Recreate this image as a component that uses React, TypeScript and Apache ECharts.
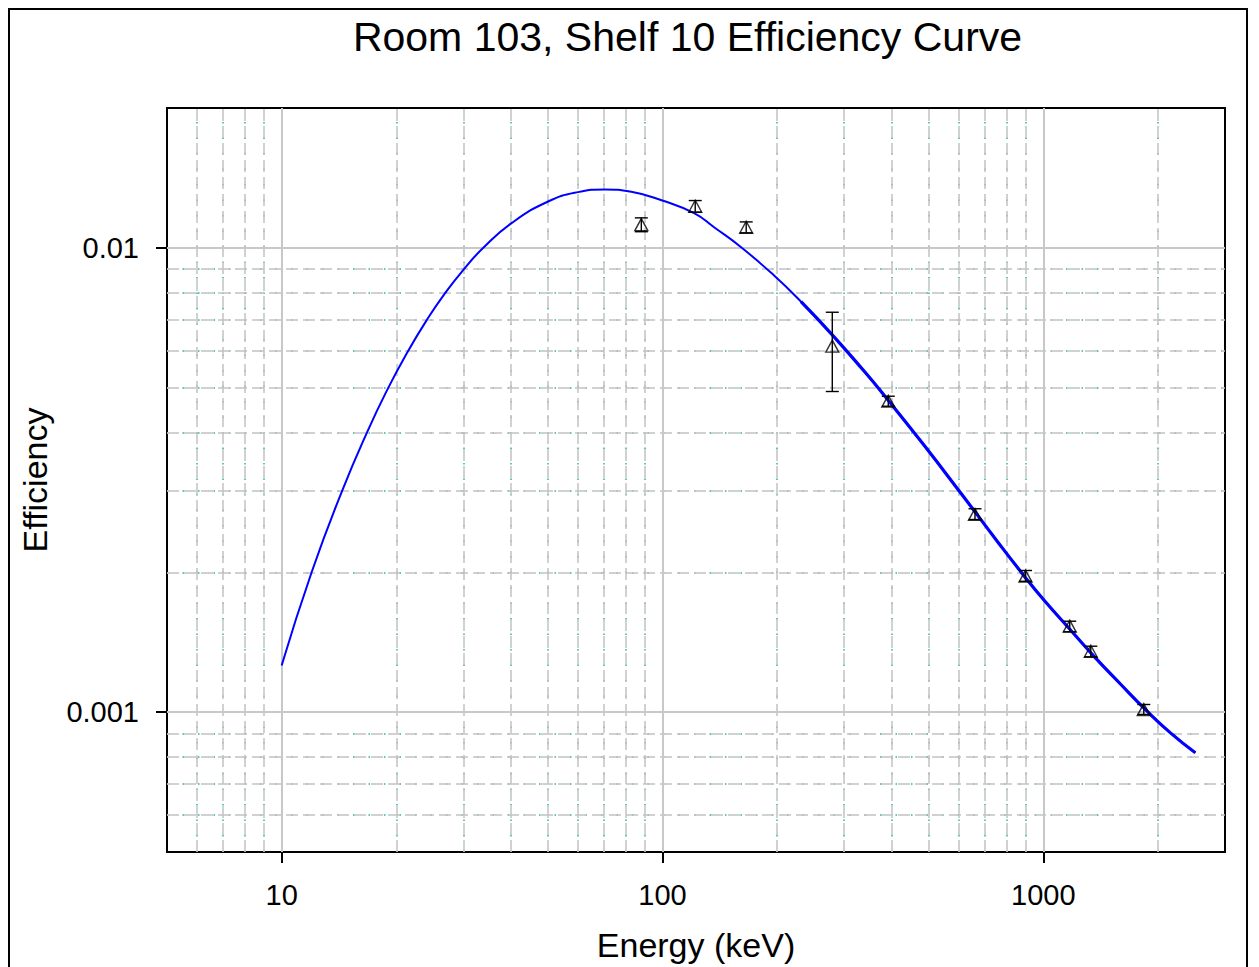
import React, { useEffect, useRef } from "react";
import * as echarts from "echarts";

// ---- Data ----
const energies = [88.0, 121.9, 165.9, 279.2, 391.7, 661.7, 898.0, 1173.2, 1332.5, 1836.1];
const efficiency = [0.01122, 0.01229, 0.01107, 0.00614, 0.004674, 0.002666, 0.001963, 0.001532, 0.001353, 0.001013];
const effLow = [0.01083, 0.01193, 0.01077, 0.004904, 0.004559, 0.0026, 0.001914, 0.00149, 0.001316, 0.000989];
const effHigh = [0.0116, 0.01264, 0.01137, 0.007265, 0.004791, 0.002742, 0.002019, 0.00157, 0.001387, 0.001039];

const fitEnergy = [10, 12.0, 14.39, 16.84, 19.05, 21.3, 23.97, 26.75, 30.15, 33.85, 40.15, 50.1, 60.04, 70.5, 82.8, 99.9, 121.4, 136.9, 160.9, 196.7, 231.1, 279.9, 338.7, 374.6, 486.4, 607.0, 757.5, 889.4, 1003.7, 1179, 1357, 1594, 1873, 2157, 2507];
const fitEff = [0.00126, 0.002006, 0.002985, 0.00404, 0.004993, 0.005923, 0.00696, 0.007949, 0.009011, 0.01, 0.0113, 0.01258, 0.01318, 0.01335, 0.0132, 0.01264, 0.01186, 0.01106, 0.01003, 0.008703, 0.007655, 0.00648, 0.00542, 0.004911, 0.003755, 0.002965, 0.002332, 0.001968, 0.001744, 0.001503, 0.001321, 0.00115, 0.001005, 0.0009027, 0.0008178];

const xTickValues = [10, 100, 1000];
const xTickLabels = ["10", "100", "1000"];
const yTickValues = [0.001, 0.01];
const yTickLabels = ["0.001", "0.01"];

const xMinorGrid = [6, 7, 8, 9, 20, 30, 40, 50, 60, 70, 80, 90, 200, 300, 400, 500, 600, 700, 800, 900, 2000];
const yMinorGrid = [0.0006, 0.0007, 0.0008, 0.0009, 0.002, 0.003, 0.004, 0.005, 0.006, 0.007, 0.008, 0.009];

const xRange = [5, 3000];
const yRange = [0.0005, 0.02];

const TITLE = "Room 103, Shelf 10 Efficiency Curve";
const X_NAME = "Energy (keV)";
const Y_NAME = "Efficiency";

const FONT = '"Liberation Sans", Arial, Helvetica, sans-serif';

function lookupLabel(values: number[], labels: string[]) {
  return (v: number) => {
    const i = values.findIndex((t) => Math.abs(Math.log10(t) - Math.log10(v)) < 1e-6);
    return i >= 0 ? labels[i] : "";
  };
}

function gridMarks(xs: number[], ys: number[]) {
  return [
    ...xs.map((v) => [{ coord: [v, yRange[0]] }, { coord: [v, yRange[1]] }]),
    ...ys.map((v) => [{ coord: [xRange[0], v] }, { coord: [xRange[1], v] }]),
  ];
}

function gridSeries(name: string, z: number, lineStyle: any, xs: number[], ys: number[]) {
  return {
    name,
    type: "line",
    data: [],
    z,
    silent: true,
    markLine: {
      silent: true,
      symbol: "none",
      label: { show: false },
      animation: false,
      lineStyle,
      data: gridMarks(xs, ys),
    },
  };
}

export default function App() {
  const ref = useRef<HTMLDivElement | null>(null);

  useEffect(() => {
    document.body.style.overflow = "hidden";
    document.documentElement.style.overflow = "hidden";
    if (!ref.current) return;
    const chart = echarts.init(ref.current, undefined, { renderer: "svg" });

    const points = energies.map((e, i) => [e, efficiency[i]]);
    const bars = energies.map((e, i) => [e, effLow[i], effHigh[i]]);
    const fit = fitEnergy.map((e, i) => [e, fitEff[i]]);
    const fitHigh = fit.filter((p) => p[0] >= 230);

    const axisCommon = {
      type: "log",
      logBase: 10,
      nameLocation: "middle",
      nameTextStyle: { fontSize: 34, color: "#000", fontFamily: FONT },
      axisLine: { show: true, lineStyle: { color: "#000", width: 2 } },
      splitLine: { show: false },
      minorTick: { show: false },
      minorSplitLine: { show: false },
    };

    const option: any = {
      animation: false,
      backgroundColor: "#fff",
      grid: {
        left: 155,
        top: 98,
        width: 1060,
        height: 744,
        show: true,
        borderColor: "#000",
        borderWidth: 2,
        backgroundColor: "#fff",
      },
      graphic: [
        {
          type: "text",
          x: 677.5,
          y: 27,
          style: {
            text: TITLE,
            fill: "#000",
            font: `41px ${FONT}`,
            align: "center",
            verticalAlign: "middle",
          },
        },
      ],
      xAxis: {
        ...axisCommon,
        min: xRange[0],
        max: xRange[1],
        name: X_NAME,
        nameGap: 76,
        axisTick: {
          show: true,
          inside: false,
          length: 11,
          customValues: xTickValues,
          lineStyle: { color: "#000", width: 2 },
        },
        axisLabel: {
          customValues: xTickValues,
          formatter: lookupLabel(xTickValues, xTickLabels),
          margin: 28,
          fontSize: 29,
          color: "#000",
          fontFamily: FONT,
        },
      },
      yAxis: {
        ...axisCommon,
        min: yRange[0],
        max: yRange[1],
        name: Y_NAME,
        nameGap: 115,
        axisTick: {
          show: true,
          inside: false,
          length: 11,
          customValues: yTickValues,
          lineStyle: { color: "#000", width: 2 },
        },
        axisLabel: {
          customValues: yTickValues,
          formatter: lookupLabel(yTickValues, yTickLabels),
          margin: 28,
          fontSize: 29,
          color: "#000",
          fontFamily: FONT,
        },
      },
      series: [
        gridSeries("minorDots", 1, { color: "#22b5b5", width: 1.5, type: [1.5, 14] }, xMinorGrid, yMinorGrid),
        gridSeries("minorGrid", 2, { color: "#c2c2c2", width: 1.5, type: [12, 5] }, xMinorGrid, yMinorGrid),
        gridSeries("majorGrid", 2, { color: "#c8c8c8", width: 2, type: "solid" }, xTickValues, yTickValues),
        {
          name: "fit",
          type: "line",
          data: fit,
          z: 5,
          smooth: 0.5,
          showSymbol: false,
          symbol: "none",
          lineStyle: { color: "#0000ff", width: 2 },
        },
        {
          name: "fitHigh",
          type: "line",
          data: fitHigh,
          z: 5,
          smooth: 0.5,
          showSymbol: false,
          symbol: "none",
          lineStyle: { color: "#0000ff", width: 3.2 },
        },
        {
          name: "errorBars",
          type: "custom",
          z: 6,
          data: bars,
          encode: { x: 0, y: [1, 2] },
          renderItem: (params: any, api: any) => {
            const x = api.value(0);
            const lo = api.coord([x, api.value(1)]);
            const hi = api.coord([x, api.value(2)]);
            const half = 6.5;
            const style = { stroke: "#000", lineWidth: 1.4 };
            return {
              type: "group",
              children: [
                { type: "line", shape: { x1: lo[0], y1: lo[1], x2: hi[0], y2: hi[1] }, style },
                { type: "line", shape: { x1: hi[0] - half, y1: hi[1], x2: hi[0] + half, y2: hi[1] }, style },
                { type: "line", shape: { x1: lo[0] - half, y1: lo[1], x2: lo[0] + half, y2: lo[1] }, style },
              ],
            };
          },
        },
        {
          name: "measured",
          type: "scatter",
          z: 7,
          data: points,
          symbol: "triangle",
          symbolSize: [13, 12],
          itemStyle: { color: "rgba(0,0,0,0)", borderColor: "#000", borderWidth: 1.4 },
        },
      ],
    };

    chart.setOption(option);
    return () => {
      chart.dispose();
    };
  }, []);

  return (
    <div
      style={{
        width: 1240,
        height: 1000,
        border: "2px solid #000",
        boxSizing: "border-box",
        background: "#fff",
      }}
    >
      <div ref={ref} style={{ width: 1236, height: 996 }} />
    </div>
  );
}
